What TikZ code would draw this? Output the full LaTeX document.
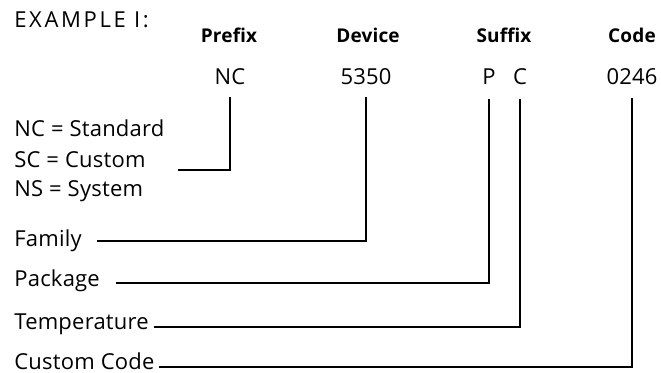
\documentclass[tikz,border=0pt]{standalone}
\usepackage{fontspec}
\setmainfont{Open Sans}[LetterSpace=1]
\usetikzlibrary{positioning}

\begin{document}
\begin{tikzpicture}[x=0.5pt,y=-0.5pt,
  lbl/.style={anchor=base west,inner sep=0pt,font=\fontsize{11}{13}\selectfont},
  hdr/.style={anchor=base,inner sep=0pt,font=\fontsize{9.5}{11}\selectfont\bfseries},
  val/.style={anchor=base,inner sep=0pt,font=\fontsize{11}{13}\selectfont},
  wire/.style={line width=0.9pt}]
  \useasboundingbox (0,0) rectangle (661,373);

  \node[lbl,font=\fontsize{11}{13}\selectfont\addfontfeature{LetterSpace=12}] (ttl) at (14,28) {EXAMPLE I:};

  \node[hdr] (hpre) at (229,43) {Prefix};
  \node[hdr] (hdev) at (368,43) {Device};
  \node[hdr] (hsuf) at (504,43) {Suffix};
  \node[hdr] (hcod) at (632,43) {Code};

  \node[val] (pre) at (230,85) {NC};
  \node[val] (dev) at (366,85) {5350};
  \node[val] (pkg) at (489,85) {P};
  \node[val] (tmp) at (520,85) {C};
  \node[val] (cod) at (632,85) {0246};

  \node[lbl] (nc) at (14,137) {NC = Standard};
  \node[lbl] (sc) at (14,168) {SC = Custom};
  \node[lbl] (ns) at (14,197) {NS = System};
  \node[lbl] (fam) at (14,247) {Family};
  \node[lbl] (pack) at (14,287) {Package};
  \node[lbl] (temp) at (14,330) {Temperature};
  \node[lbl] (cust) at (14,370) {Custom Code};

  \draw[wire] ([shift={(32,2)}]sc.base east) -| ([shift={(0,11)}]pre.south);
  \draw[wire] ([shift={(15,-6)}]fam.base east) -| ([shift={(0,11)}]dev.south);
  \draw[wire] ([shift={(16,-4)}]pack.base east) -| ([shift={(0,14)}]pkg.south);
  \draw[wire] ([shift={(5,-3)}]temp.base east) -| ([shift={(0,13)}]tmp.south);
  \draw[wire] ([shift={(4,-3)}]cust.base east) -| ([shift={(0,12)}]cod.south);
\end{tikzpicture}
\end{document}
